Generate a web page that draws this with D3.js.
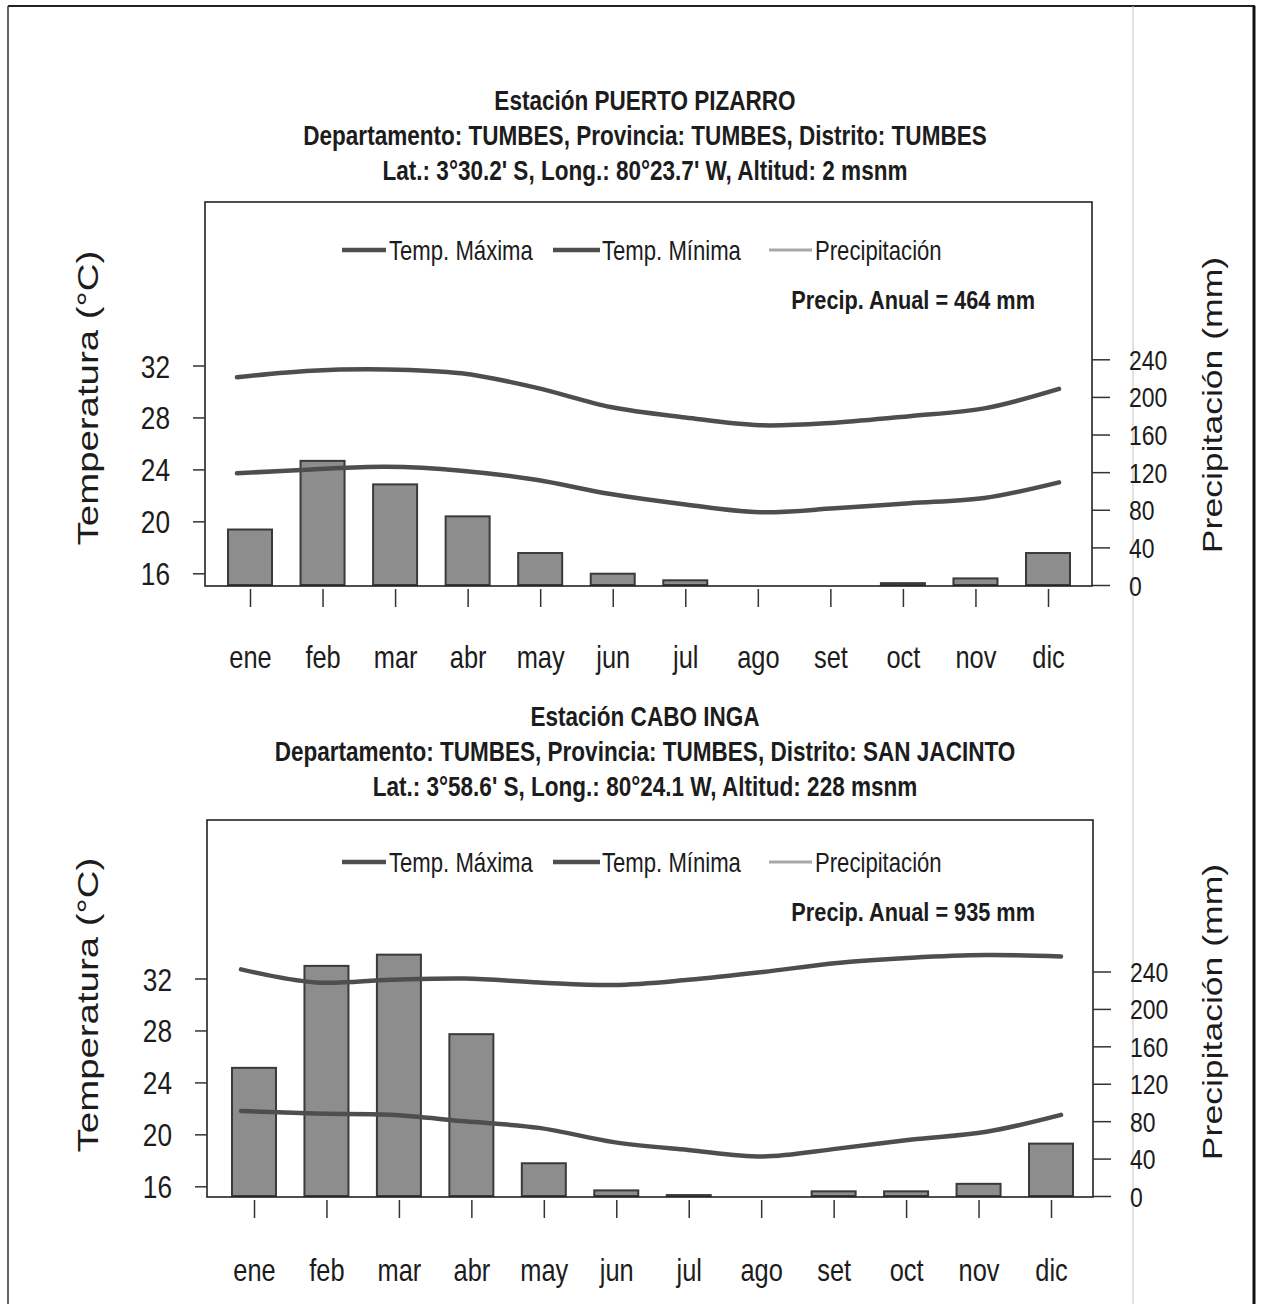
<!DOCTYPE html>
<html><head><meta charset="utf-8">
<script src="https://cdn.jsdelivr.net/npm/d3@7"></script>
<style>body{margin:0;background:#fff}svg{display:block}</style>
</head><body>
<svg id="c" width="1264" height="1304"></svg>
<script>
// ---------- DATA ----------
const months = ["ene","feb","mar","abr","may","jun","jul","ago","set","oct","nov","dic"];
const tempTicks = [16,20,24,28,32];
const precTicks = [0,40,80,120,160,200,240];
const legendLabels = ["Temp. Máxima","Temp. Mínima","Precipitación"];

const titles1 = ["Estación PUERTO PIZARRO",
  "Departamento: TUMBES, Provincia: TUMBES, Distrito: TUMBES",
  "Lat.: 3°30.2' S, Long.: 80°23.7' W, Altitud: 2 msnm"];
const annual1 = "Precip. Anual = 464 mm";
const tmax1 = [31.1, 31.6, 31.7, 31.4, 30.3, 28.8, 28.0, 27.4, 27.6, 28.1, 28.7, 30.2];
const tmin1 = [23.7, 24.0, 24.2, 23.9, 23.2, 22.1, 21.3, 20.7, 21.0, 21.4, 21.8, 23.0];
const prec1 = [59, 132, 107, 73, 34, 12, 5, 0, 0, 2, 7, 34];

const titles2 = ["Estación CABO INGA",
  "Departamento: TUMBES, Provincia: TUMBES, Distrito: SAN JACINTO",
  "Lat.: 3°58.6' S, Long.: 80°24.1 W, Altitud: 228 msnm"];
const annual2 = "Precip. Anual = 935 mm";
const tmax2 = [32.7, 31.7, 31.9, 32.0, 31.7, 31.5, 31.9, 32.5, 33.2, 33.6, 33.8, 33.7];
const tmin2 = [21.8, 21.6, 21.5, 21.0, 20.5, 19.4, 18.8, 18.3, 18.9, 19.6, 20.2, 21.5];
const prec2 = [137, 246, 258, 173, 35, 6, 1, 0, 5, 5, 13, 56];

// ---------- DRAW ----------
const svg = d3.select("#c");
const FONT = "'Liberation Sans', Arial, Helvetica, sans-serif";
const NX = 0.82; // horizontal condensing of scanned text
const INK = "#1c1c1c";

// page frame (scan)
svg.append("line").attr("x1",8).attr("x2",1255).attr("y1",6).attr("y2",6).attr("stroke","#222").attr("stroke-width",2);
svg.append("line").attr("x1",8).attr("x2",8).attr("y1",6).attr("y2",1304).attr("stroke","#333").attr("stroke-width",1.5);
svg.append("line").attr("x1",1254).attr("x2",1254).attr("y1",6).attr("y2",1304).attr("stroke","#111").attr("stroke-width",3);
svg.append("line").attr("x1",1133).attr("x2",1133).attr("y1",6).attr("y2",1304).attr("stroke","#c4c4c4").attr("stroke-width",1);

function ntext(g, x, y, s, size, opts={}) {
  return g.append("text")
    .attr("transform", `translate(${x},${y}) scale(${NX},1)`)
    .attr("text-anchor", opts.anchor || "start")
    .attr("font-family", FONT)
    .attr("font-size", size)
    .attr("font-weight", opts.bold ? "bold" : "normal")
    .attr("fill", INK)
    .text(s);
}

function panel(cfg) {
  const g = svg.append("g");
  // titles
  cfg.titles.forEach((t,i) => ntext(g, 645, cfg.titleY + i*35, t, 27.5, {anchor:"middle", bold:true}));

  const yT = d3.scaleLinear().domain([16,32]).range([cfg.t16, cfg.t32]);
  const yP = d3.scaleLinear().domain([0,240]).range([cfg.p0, cfg.p240]);
  const xB = d3.scalePoint().domain(months).range(cfg.barRange);
  const xL = d3.scalePoint().domain(months).range(cfg.lineRange);

  // bars
  const barW = 44;
  g.append("g").selectAll("rect").data(cfg.prec).join("rect")
    .attr("x", (d,i) => xB(months[i]) - barW/2)
    .attr("y", d => yP(d))
    .attr("width", barW)
    .attr("height", d => Math.max(0, yP(0) - yP(d)))
    .attr("fill", "#8d8d8d")
    .attr("stroke", "#3a3a3a")
    .attr("stroke-width", d => d > 0 ? 2 : 0);

  // lines
  const line = d3.line().x((d,i) => xL(months[i])).y(d => yT(d)).curve(d3.curveCatmullRom.alpha(0.5));
  [cfg.tmax, cfg.tmin].forEach(arr => {
    g.append("path").attr("d", line(arr)).attr("fill","none")
      .attr("stroke","#4e4e4e").attr("stroke-width",4.5).attr("stroke-linecap","round");
  });

  // box
  g.append("rect").attr("x", cfg.box[0]).attr("y", cfg.box[1])
    .attr("width", cfg.box[2]-cfg.box[0]).attr("height", cfg.box[3]-cfg.box[1])
    .attr("fill","none").attr("stroke","#222").attr("stroke-width",1.6);

  // left axis
  const la = g.append("g").attr("transform", `translate(${cfg.box[0]},0)`)
    .call(d3.axisLeft(yT).tickValues(tempTicks).tickSize(12).tickSizeOuter(0));
  la.select(".domain").remove();
  la.selectAll("line").attr("stroke","#333").attr("stroke-width",1.5);
  la.selectAll("text").attr("x", -35/NX).attr("dy","0.36em")
    .attr("transform", `scale(${NX},1)`)
    .attr("font-family", FONT).attr("font-size", 32).attr("fill", INK);

  // right axis
  const ra = g.append("g").attr("transform", `translate(${cfg.box[2]},0)`)
    .call(d3.axisRight(yP).tickValues(precTicks).tickSize(18).tickSizeOuter(0));
  ra.select(".domain").remove();
  ra.selectAll("line").attr("stroke","#333").attr("stroke-width",1.5);
  ra.selectAll("text").attr("x", 37/NX).attr("dy","0.36em")
    .attr("transform", `scale(${NX},1)`)
    .attr("font-family", FONT).attr("font-size", 28).attr("fill", INK);

  // bottom axis
  const ba = g.append("g").attr("transform", `translate(0,${cfg.box[3]+3})`)
    .call(d3.axisBottom(xB).tickSize(18).tickSizeOuter(0));
  ba.select(".domain").remove();
  ba.selectAll("line").attr("stroke","#333").attr("stroke-width",1.5);
  ba.selectAll("text").attr("y", cfg.monthY - cfg.box[3] - 3).attr("dy", 0)
    .attr("transform", `scale(${NX},1)`)
    .attr("font-family", FONT).attr("font-size", 31).attr("fill", INK);

  // legend
  const lg = cfg.legendY;
  const leg = [
    {x1:342, x2:386, tx:389, col:"#4e4e4e", w:4.5},
    {x1:553, x2:600, tx:602, col:"#4e4e4e", w:4.5},
    {x1:769, x2:812, tx:815, col:"#a8a8a8", w:3}
  ];
  leg.forEach((l,i) => {
    g.append("line").attr("x1",l.x1).attr("x2",l.x2).attr("y1",lg).attr("y2",lg)
      .attr("stroke",l.col).attr("stroke-width",l.w);
    ntext(g, l.tx, lg + 9.5, legendLabels[i], 27);
  });
  ntext(g, 1035, cfg.annualY, cfg.annual, 26.5, {anchor:"end", bold:true});

  // axis titles
  g.append("text").attr("transform", `translate(98,${cfg.axisTitleY}) rotate(-90) scale(1.28,1)`)
    .attr("text-anchor","middle").attr("font-family",FONT).attr("font-size",30).attr("fill",INK)
    .text("Temperatura (°C)");
  g.append("text").attr("transform", `translate(1222,${cfg.axisTitleY+7}) rotate(-90) scale(1.27,1)`)
    .attr("text-anchor","middle").attr("font-family",FONT).attr("font-size",28).attr("fill",INK)
    .text("Precipitación (mm)");
}

panel({
  titles: titles1, annual: annual1, tmax: tmax1, tmin: tmin1, prec: prec1,
  titleY: 110, box: [205, 202, 1092, 586],
  t16: 573.3, t32: 365.5, p0: 585, p240: 359.3,
  barRange: [250, 1048], lineRange: [237, 1059],
  monthY: 668, legendY: 250, annualY: 309, axisTitleY: 398
});
panel({
  titles: titles2, annual: annual2, tmax: tmax2, tmin: tmin2, prec: prec2,
  titleY: 726, box: [207, 820, 1093, 1197],
  t16: 1186.3, t32: 978.5, p0: 1196, p240: 971.5,
  barRange: [254, 1051], lineRange: [241, 1061],
  monthY: 1281, legendY: 862, annualY: 921, axisTitleY: 1005
});
</script>
</body></html>
